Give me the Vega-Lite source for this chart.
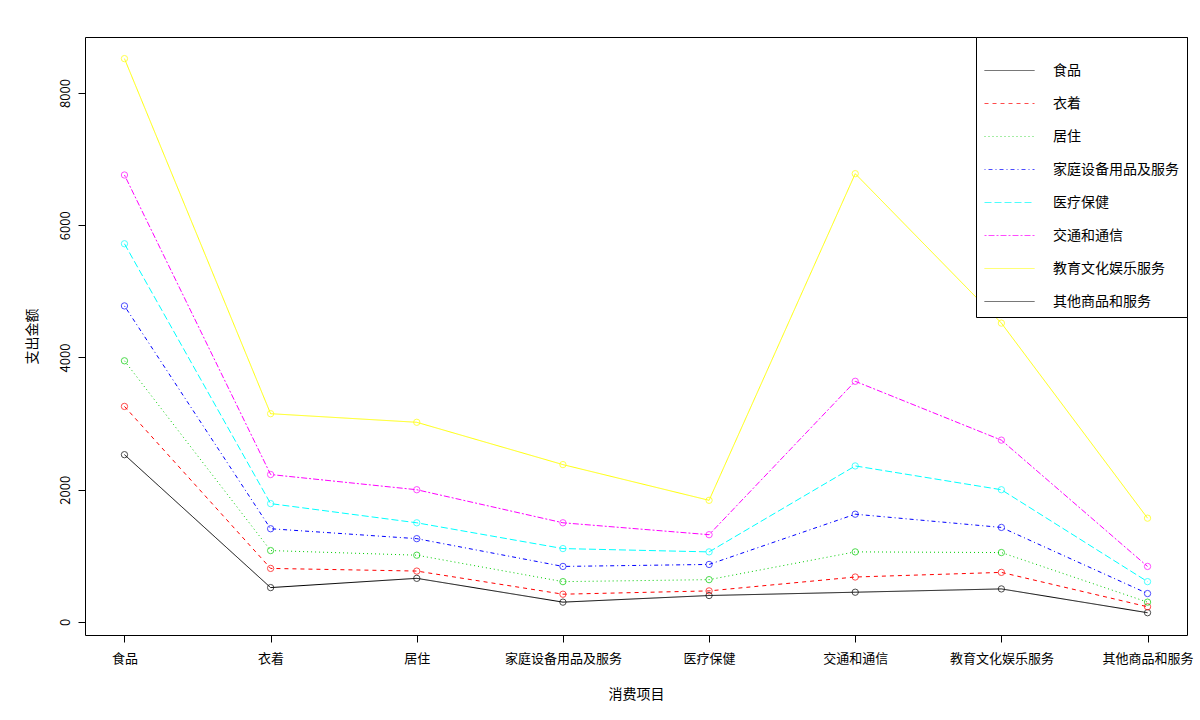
{"$schema":"https://vega.github.io/schema/vega-lite/v6.json","width":1102,"height":598,"padding":{"left":85,"top":37,"right":13,"bottom":85},"autosize":{"type":"none"},"config":{"font":"Noto Sans CJK SC","view":{"stroke":"black","strokeWidth":1},"axis":{"grid":false,"domainColor":"black","tickColor":"black","labelColor":"black","titleColor":"black","labelFontSize":13,"titleFontSize":14,"titleFontWeight":"normal","tickSize":7}},
"data":{"values":[
{"s":"食品","x":"食品","v":2530},{"s":"食品","x":"衣着","v":520},{"s":"食品","x":"居住","v":660},{"s":"食品","x":"家庭设备用品及服务","v":300},{"s":"食品","x":"医疗保健","v":400},{"s":"食品","x":"交通和通信","v":450},{"s":"食品","x":"教育文化娱乐服务","v":500},{"s":"食品","x":"其他商品和服务","v":140},
{"s":"衣着","x":"食品","v":3260},{"s":"衣着","x":"衣着","v":810},{"s":"衣着","x":"居住","v":770},{"s":"衣着","x":"家庭设备用品及服务","v":420},{"s":"衣着","x":"医疗保健","v":470},{"s":"衣着","x":"交通和通信","v":680},{"s":"衣着","x":"教育文化娱乐服务","v":750},{"s":"衣着","x":"其他商品和服务","v":230},
{"s":"居住","x":"食品","v":3950},{"s":"居住","x":"衣着","v":1080},{"s":"居住","x":"居住","v":1010},{"s":"居住","x":"家庭设备用品及服务","v":610},{"s":"居住","x":"医疗保健","v":640},{"s":"居住","x":"交通和通信","v":1060},{"s":"居住","x":"教育文化娱乐服务","v":1050},{"s":"居住","x":"其他商品和服务","v":300},
{"s":"家庭设备用品及服务","x":"食品","v":4780},{"s":"家庭设备用品及服务","x":"衣着","v":1410},{"s":"家庭设备用品及服务","x":"居住","v":1260},{"s":"家庭设备用品及服务","x":"家庭设备用品及服务","v":840},{"s":"家庭设备用品及服务","x":"医疗保健","v":870},{"s":"家庭设备用品及服务","x":"交通和通信","v":1630},{"s":"家庭设备用品及服务","x":"教育文化娱乐服务","v":1430},{"s":"家庭设备用品及服务","x":"其他商品和服务","v":430},
{"s":"医疗保健","x":"食品","v":5720},{"s":"医疗保健","x":"衣着","v":1790},{"s":"医疗保健","x":"居住","v":1500},{"s":"医疗保健","x":"家庭设备用品及服务","v":1110},{"s":"医疗保健","x":"医疗保健","v":1060},{"s":"医疗保健","x":"交通和通信","v":2360},{"s":"医疗保健","x":"教育文化娱乐服务","v":2000},{"s":"医疗保健","x":"其他商品和服务","v":610},
{"s":"交通和通信","x":"食品","v":6760},{"s":"交通和通信","x":"衣着","v":2230},{"s":"交通和通信","x":"居住","v":2000},{"s":"交通和通信","x":"家庭设备用品及服务","v":1500},{"s":"交通和通信","x":"医疗保健","v":1320},{"s":"交通和通信","x":"交通和通信","v":3640},{"s":"交通和通信","x":"教育文化娱乐服务","v":2750},{"s":"交通和通信","x":"其他商品和服务","v":840},
{"s":"教育文化娱乐服务","x":"食品","v":8520},{"s":"教育文化娱乐服务","x":"衣着","v":3150},{"s":"教育文化娱乐服务","x":"居住","v":3020},{"s":"教育文化娱乐服务","x":"家庭设备用品及服务","v":2380},{"s":"教育文化娱乐服务","x":"医疗保健","v":1840},{"s":"教育文化娱乐服务","x":"交通和通信","v":6780},{"s":"教育文化娱乐服务","x":"教育文化娱乐服务","v":4520},{"s":"教育文化娱乐服务","x":"其他商品和服务","v":1570}
]},
"encoding":{
"x":{"field":"x","type":"nominal","sort":null,"scale":{"type":"point","padding":0.27},"axis":{"labelAngle":0,"title":"消费项目","titlePadding":22,"labelPadding":10,"domain":false}},
"y":{"field":"v","type":"quantitative","scale":{"domain":[-197,8847],"nice":false,"zero":false},"axis":{"values":[0,2000,4000,6000,8000],"format":"d","labelAngle":-90,"labelAlign":"center","labelBaseline":"bottom","labelPadding":6,"title":"支出金额","titlePadding":20,"domain":false}},
"color":{"field":"s","type":"nominal","scale":{"domain":["食品","衣着","居住","家庭设备用品及服务","医疗保健","交通和通信","教育文化娱乐服务","其他商品和服务"],"range":["black","red","#00cd00","blue","cyan","magenta","yellow","black"]},"legend":{"title":null,"orient":"top-right","offset":0,"strokeColor":"black","padding":8,"symbolType":"stroke","symbolSize":2500,"symbolStrokeWidth":1,"labelFontSize":14,"rowPadding":-6,"labelOffset":18,"fillColor":"white"}}
},
"layer":[
{"mark":{"type":"line","strokeWidth":1},"encoding":{"strokeDash":{"field":"s","type":"nominal","scale":{"domain":["食品","衣着","居住","家庭设备用品及服务","医疗保健","交通和通信","教育文化娱乐服务","其他商品和服务"],"range":[[1,0],[4,4],[1,3],[1,3,4,3],[7,3],[2,2,6,2],[1,0],[1,0]]},"legend":null}}},
{"mark":{"type":"point","shape":"circle","size":40,"filled":false,"strokeWidth":1}}
]}
